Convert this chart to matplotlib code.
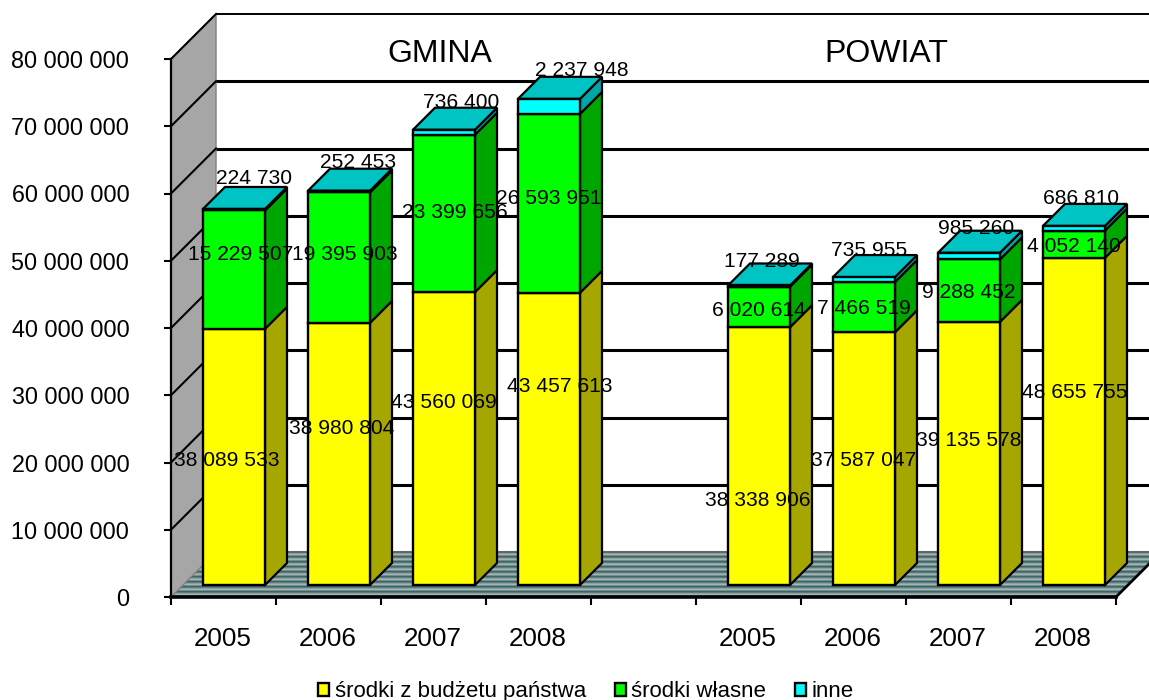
import numpy as np
import matplotlib
matplotlib.use("Agg")
import matplotlib.pyplot as plt
from matplotlib.patches import Polygon, Patch
from matplotlib.collections import PolyCollection

plt.rcParams['font.family'] = ['Liberation Sans', 'DejaVu Sans']

years = ['2005', '2006', '2007', '2008', '', '2005', '2006', '2007', '2008']
slots = [0, 1, 2, 3, 5, 6, 7, 8]
budget = [38089533, 38980804, 43560069, 43457613, 38338906, 37587047, 39135578, 48655755]
own = [15229507, 19395903, 23399656, 26593951, 6020614, 7466519, 9288452, 4052140]
other = [224730, 252453, 736400, 2237948, 177289, 735955, 985260, 686810]
# heights as actually drawn in the picture: the first green bar is taller than its label says
own_drawn = [17600000, 19395903, 23399656, 26593951, 6020614, 7466519, 9288452, 4052140]
series_names = ['środki z budżetu państwa', 'środki własne', 'inne']
group_titles = ['GMINA', 'POWIAT']
y_ticks = [0, 10000000, 20000000, 30000000, 40000000, 50000000, 60000000, 70000000, 80000000]

# label centres in figure pixels (hand-placed in the source chart)
pos_budget = [(227, 460), (342, 428), (444, 403), (560, 386), (758, 501), (864, 461), (969, 441), (1075, 393)]
pos_own = [(241, 255), (345, 254), (455, 213), (549, 199), (759, 310), (864, 309), (969, 292), (1074, 246)]
pos_other = [(254, 179), (358, 162), (461, 102), (582, 71), (762, 262), (869, 250), (976, 229), (1081, 199)]

W, H = 1149, 700
L, R, T, B = 171, 1116, 59, 597
fig = plt.figure(figsize=(W / 100, H / 100), dpi=100)
ax = fig.add_axes([L / W, 1 - B / H, (R - L) / W, (B - T) / H])
ax.set_xlim(0, 9)
ax.set_ylim(0, 80000000)
ax.patch.set_visible(False)
sx = 9 / (R - L)           # slot units per pixel
sy = 80000000 / (B - T)    # value units per pixel
fmt = lambda v: f"{int(v):,}".replace(',', ' ')
K = dict(clip_on=False)


def px(x, y):
    return np.array([(x - L) * sx, (B - y) * sy])


# floor stripes
WALL = 45
cycle = ['#3a6666', '#6e8c8c', '#a8b4b4', '#8aa0a0', '#5a7c7c']
rows = []
cols = []
for i in range(WALL):
    y0, y1 = i, i + 1.05
    rows.append([(y0 * sx, y0 * sy), ((R - L + y0) * sx, y0 * sy),
                 ((R - L + y1) * sx, y1 * sy), (y1 * sx, y1 * sy)])
    cols.append(cycle[i % len(cycle)])
ax.add_collection(PolyCollection(rows, facecolors=cols, edgecolors='none', zorder=1,
                                 antialiased=False, clip_on=False), autolim=False)
ax.plot([WALL * sx, 9 + 40 * sx], [WALL * sy] * 2, color='#666666', lw=1.5, zorder=1.5, **K)

# side wall
ax.add_patch(Polygon([(0, 0), (WALL * sx, WALL * sy), (WALL * sx, 80000000 + WALL * sy), (0, 80000000)],
                     closed=True, fc='#a6a6a6', ec='#808080', lw=1.0, zorder=1, **K))
# gridlines on the back wall and side wall
for v in y_ticks[1:]:
    lw = 1.4 if v == 80000000 else 2.2
    ax.plot([WALL * sx, 9 + 40 * sx], [v + WALL * sy] * 2, color='black', lw=lw, zorder=2, solid_capstyle='butt', **K)
    ax.plot([0, WALL * sx], [v, v + WALL * sy], color='black', lw=1.5, zorder=2, **K)
# floor right edge
ax.plot([9, 9 + WALL * sx], [0, WALL * sy], color='black', lw=2.0, zorder=2, **K)

# bars
BAR = 62 * sx
OFF = 32 * sx
BASE = 12 * sy
DX, DY = 22 * sx, 22 * sy
colors = ['#ffff00', '#00ff00', '#00ffff']
sides = ['#a6a600', '#00a600', '#00a6a6']
TOP = '#00c4c4'
for n, s in enumerate(slots):
    x0 = s + OFF
    bottom = BASE
    for val, c, sc in zip((budget[n], own_drawn[n], other[n]), colors, sides):
        ax.bar(x0, val, width=BAR, bottom=bottom, align='edge', color=c, edgecolor='black', lw=1.7, zorder=5, **K)
        ax.add_patch(Polygon([(x0 + BAR, bottom), (x0 + BAR + DX, bottom + DY),
                              (x0 + BAR + DX, bottom + val + DY), (x0 + BAR, bottom + val)],
                             closed=True, fc=sc, ec='black', lw=1.6, zorder=4, **K))
        bottom += val
    ax.add_patch(Polygon([(x0, bottom), (x0 + DX, bottom + DY), (x0 + BAR + DX, bottom + DY), (x0 + BAR, bottom)],
                         closed=True, fc=TOP, ec='black', lw=1.6, zorder=4, **K))

# data labels
for vals, poss in ((budget, pos_budget), (own, pos_own), (other, pos_other)):
    for v, (x, y) in zip(vals, poss):
        xx, yy = px(x, y)
        ax.text(xx, yy, fmt(v), ha='center', va='center', fontsize=15.1, color='black', zorder=10, **K)

# group titles
for t, (x, y) in zip(group_titles, [(440, 54), (886, 54)]):
    xx, yy = px(x, y)
    ax.text(xx, yy, t, ha='center', va='center', fontsize=23, color='black', zorder=10, **K)

# axes
for sp in ('top', 'right'):
    ax.spines[sp].set_visible(False)
ax.spines['left'].set_linewidth(1.6)
ax.spines['bottom'].set_linewidth(2.6)
ax.spines['left'].set_zorder(6)
ax.spines['bottom'].set_zorder(6)
ax.set_yticks(y_ticks)
ax.set_yticklabels([fmt(v) for v in y_ticks], fontsize=16.8)
ax.tick_params(axis='y', length=5, width=1.5, pad=25)
ax.set_xticks(np.arange(0, 10))
ax.set_xticklabels([])
ax.tick_params(axis='x', which='major', length=5.5, width=1.5)
ax.set_xticks(np.arange(9) + 0.49, minor=True)
ax.set_xticklabels(years, minor=True, fontsize=18.7)
ax.tick_params(axis='x', which='minor', length=0, pad=21.5)

handles = [Patch(fc=c, ec='black', lw=1.7) for c in colors]
fig.legend(handles, series_names, ncol=3, frameon=False, fontsize=16,
           loc='lower center', bbox_to_anchor=(586 / W, -0.003),
           handlelength=0.5, handleheight=0.5, handletextpad=0.25, columnspacing=1.3,
           borderpad=0, borderaxespad=0)

fig.savefig('out.png', dpi=100)
